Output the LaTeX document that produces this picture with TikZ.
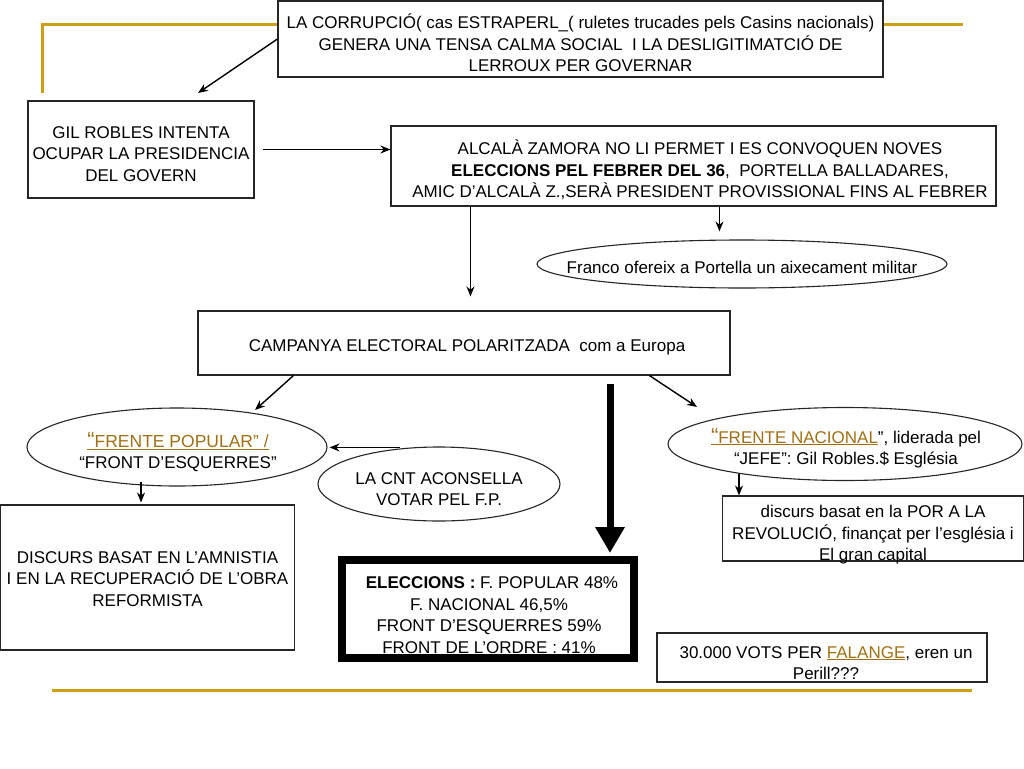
\documentclass[tikz,border=0pt]{standalone}
\usepackage{fontspec}
\setmainfont{Liberation Sans}
\usetikzlibrary{arrows.meta,shapes.geometric,calc}
\definecolor{goldline}{RGB}{204,160,20}
\definecolor{goldtext}{RGB}{160,112,20}
\newcommand{\gu}[1]{\textcolor{goldtext}{\underline{#1}}}
\begin{document}
\begin{tikzpicture}[x=1pt,y=-1pt,
  txt/.style={font=\fontsize{17}{21.5}\selectfont,align=center,inner sep=0pt},
  box/.style={draw=black!85,line width=1.1pt,inner sep=0pt,align=center},
  oval/.style={draw=black!85,line width=1.1pt,ellipse,inner sep=0pt,align=center},
  arr/.style={draw=black,line width=1.4pt,-{Stealth[length=10pt,width=8pt]}},
  gold/.style={draw=goldline,line width=3pt}]
\useasboundingbox (0,0) rectangle (1024,768);
\fill[white] (0,0) rectangle (1024,768);
% gold rules
\coordinate (gA) at (42,93);
\coordinate (gB) at (42,25);
\coordinate (gC) at (278,25);
\coordinate (gD) at (883,25);
\coordinate (gE) at (963,25);
\coordinate (gF) at (52,690);
\coordinate (gG) at (972,690);
\draw[gold] (gA) -- (gB) -- (gC);
\draw[gold] (gD) -- (gE);
\draw[gold] (gF) -- (gG);
% boxes
\node[box,fill=white,minimum width=605pt,minimum height=76pt] (top) at (580.5,39) {};
\node[txt] (toptxt) at (580.5,43) {LA CORRUPCIÓ( cas ESTRAPERL\_( ruletes trucades pels Casins nacionals)\\GENERA UNA TENSA CALMA SOCIAL\ \ I LA DESLIGITIMATCIÓ DE\\LERROUX PER GOVERNAR};
\node[box,minimum width=226pt,minimum height=97pt] (gil) at (141,149.5) {};
\node[txt] (giltxt) at (141,154) {GIL ROBLES INTENTA\\OCUPAR LA PRESIDENCIA\\DEL GOVERN};
\node[box,minimum width=605pt,minimum height=80pt] (alc) at (693.5,166) {};
\node[txt] (alctxt) at (700,170) {ALCALÀ ZAMORA NO LI PERMET I ES CONVOQUEN NOVES\\\textbf{ELECCIONS PEL FEBRER DEL 36},\ \ PORTELLA BALLADARES,\\AMIC D’ALCALÀ Z.,SERÀ PRESIDENT PROVISSIONAL FINS AL FEBRER};
\node[oval,minimum width=410pt,minimum height=48pt] (franco) at (742,264) {};
\node[txt] (francotxt) at (742,267) {Franco ofereix a Portella un aixecament militar};
\node[box,minimum width=532pt,minimum height=64pt] (camp) at (464,343) {};
\node[txt] (camptxt) at (467,347) {CAMPANYA ELECTORAL POLARITZADA\ \ com a Europa};
\node[oval,minimum width=300pt,minimum height=78pt] (fp) at (177,447) {};
\node[txt] (fptxt) at (178,452) {{\fontsize{17.5}{21.5}\selectfont\textcolor{goldtext}{\underline{{\fontsize{22}{21}\selectfont“}FRENTE POPULAR” /}}}\\“FRONT D’ESQUERRES”};
\node[oval,minimum width=242pt,minimum height=74pt] (cnt) at (439,484) {};
\node[txt] (cnttxt) at (439,489) {LA CNT ACONSELLA\\VOTAR PEL F.P.};
\node[oval,minimum width=354pt,minimum height=73pt] (fn) at (845,444) {};
\node[txt] (fntxt) at (846,448) {\textcolor{goldtext}{\underline{{\fontsize{22}{21}\selectfont“}FRENTE NACIONAL}}”, liderada pel\\“JEFE”: Gil Robles.\$ Església};
\node[box,minimum width=294pt,minimum height=145pt] (disc) at (147.5,577.5) {};
\node[txt] (disctxt) at (147.5,579) {DISCURS BASAT EN L’AMNISTIA\\I EN LA RECUPERACIÓ DE L’OBRA\\REFORMISTA};
\node[box,minimum width=301pt,minimum height=65pt] (discr) at (873,528.5) {};
\node[txt] (discrtxt) at (873,535) {discurs basat en la POR A LA\\REVOLUCIÓ, finançat per l’església i\\El gran capital};
\node[box,line width=8pt,draw=black,minimum width=292pt,minimum height=98pt] (elec) at (488,609) {};
\node[txt] (electxt) at (489,615) {\hspace*{6pt}\textbf{ELECCIONS :} F. POPULAR 48\%\\F. NACIONAL 46,5\%\\FRONT D’ESQUERRES 59\%\\FRONT DE L’ORDRE : 41\%};
\node[box,minimum width=330pt,minimum height=49pt] (vots) at (822,657.5) {};
\node[txt] (votstxt) at (826,663) {30.000 VOTS PER \gu{FALANGE}, eren un\\Perill???};
% connectors
\coordinate (c1) at (198,93);
\draw[arr] (top.west) -- (c1);
\draw[arr,shorten <=8pt] (gil.east) -- (gil.east -| alc.west);
\coordinate (c2) at ([xshift=80pt]alc.south west);
\draw[arr,shorten >=14pt] (c2) -- (c2 |- camp.north);
\coordinate (c3) at ([xshift=329pt]alc.south west);
\draw[arr,shorten >=8pt] (c3) -- (c3 |- franco.north);
\coordinate (c4) at ([xshift=96pt]camp.south west);
\coordinate (c5) at (255,410);
\draw[arr] (c4) -- (c5);
\coordinate (c6) at ([xshift=452pt]camp.south west);
\coordinate (c7) at (697,407);
\draw[arr] (c6) -- (c7);
\coordinate (c8) at ([xshift=-39pt,yshift=-1pt]cnt.north);
\draw[arr,shorten >=2pt] (c8) -- (c8 -| fp.east);
\coordinate (c9) at ([xshift=-36pt,yshift=5pt]fp.south);
\draw[arr,shorten >=2pt] (c9) -- (c9 |- disc.north);
\coordinate (c10) at ([xshift=-106pt,yshift=7pt]fn.south);
\draw[arr] (c10) -- (c10 |- discr.north);
\coordinate (c11) at (610,384);
\draw[line width=7pt,-{Triangle[length=26pt,width=28pt]},shorten >=3pt] (c11) -- (c11 |- elec.north);
\end{tikzpicture}
\end{document}
